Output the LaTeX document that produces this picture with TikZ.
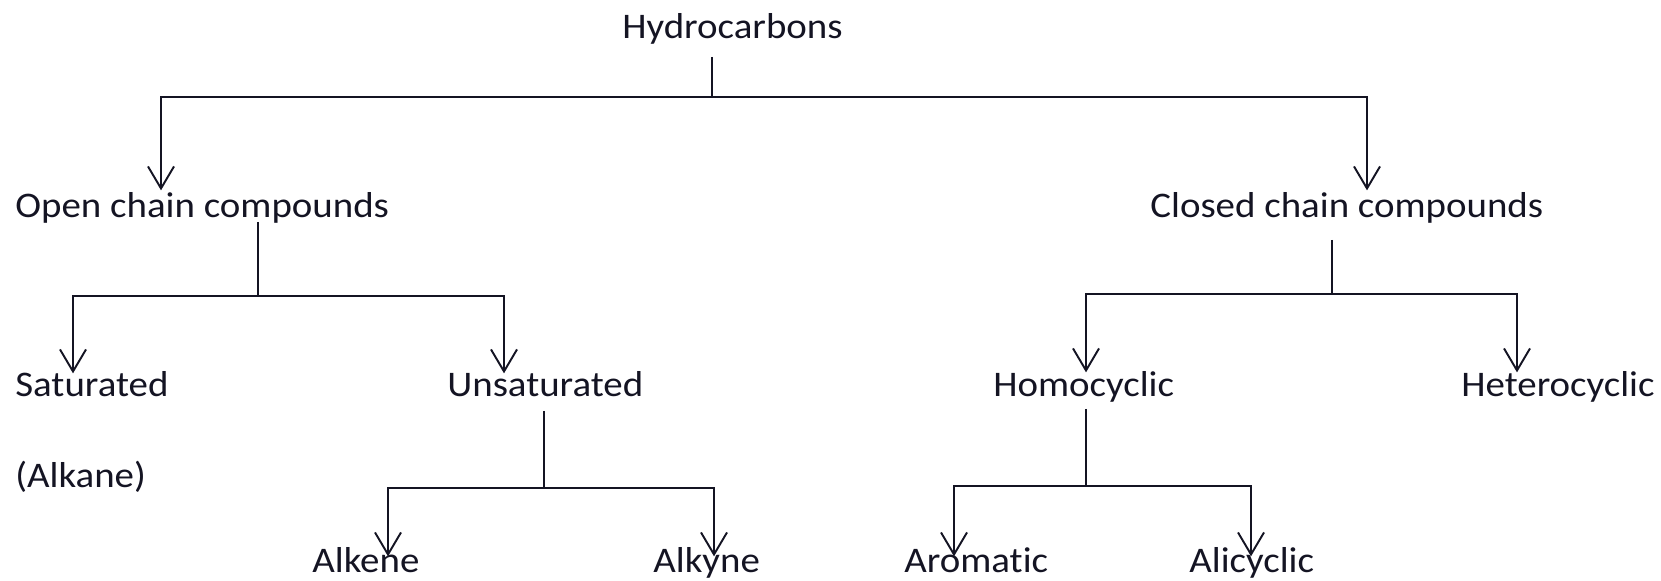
\documentclass[tikz,border=0pt]{standalone}
\usepackage{fontspec}
\setmainfont{Carlito}[FakeStretch=1.08, Ligatures=NoCommon]
\usepackage{tikz}
\usetikzlibrary{arrows.meta, calc}
\definecolor{inkdark}{RGB}{20,20,35}
\tikzset{
  term/.style={inner sep=0pt, anchor=base west, text=inkdark,
    text height=0.7em, text depth=0.2em,
    font=\fontsize{20.5pt}{24pt}\selectfont},
  line/.style={line width=1.1pt, color=inkdark},
  arrow/.style={line width=1.1pt, color=inkdark,
    -{Straight Barb[length=0.44cm, width=0.52cm, line width=1.1pt]}}
}
\begin{document}
\begin{tikzpicture}
  \useasboundingbox (0,0) rectangle (33.22,11.6);

  % Top level
  \node[term] (hc) at (12.44,10.82) {Hydrocarbons};
  \node[term] (open) at (0.30,7.24) {Open chain compounds};
  \node[term] (closed) at (23.00,7.24) {Closed chain compounds};
  \coordinate (hcJ) at (14.24,9.66);
  \coordinate (hcL) at (3.22,9.66);
  \coordinate (hcR) at (27.34,9.66);
  \draw[line, shorten <=0.28cm] (hc.south -| hcJ) -- (hcJ);
  \draw[arrow, shorten >=0.30cm] (hcJ) -| (hcL |- open.north);
  \draw[arrow, shorten >=0.30cm] (hcJ) -| (hcR |- closed.north);

  % Open chain
  \node[term] (sat) at (0.30,3.66) {Saturated};
  \node[term] (alkane) at (0.30,1.86) {(Alkane)};
  \node[term] (unsat) at (8.94,3.66) {Unsaturated};
  \coordinate (oJ) at (5.16,5.68);
  \coordinate (oL) at (1.46,5.68);
  \coordinate (oR) at (10.08,5.68);
  \draw[line] (open.south -| oJ) -- (oJ);
  \draw[arrow, shorten >=0.22cm] (oJ) -| (oL |- sat.north);
  \draw[arrow, shorten >=0.22cm] (oJ) -| (oR |- unsat.north);

  % Unsaturated
  \node[term] (alkene) at (6.24,0.16) {Alkene};
  \node[term] (alkyne) at (13.06,0.16) {Alkyne};
  \coordinate (uJ) at (10.88,1.84);
  \coordinate (uL) at (7.76,1.84);
  \coordinate (uR) at (14.28,1.84);
  \draw[line, shorten <=0.20cm] (unsat.south -| uJ) -- (uJ);
  \draw[arrow, shorten >=0.06cm] (uJ) -| (uL |- alkene.north);
  \draw[arrow, shorten >=0.06cm] (uJ) -| (uR |- alkyne.north);

  % Closed chain
  \node[term] (homo) at (19.86,3.66) {Homocyclic};
  \node[term] (hetero) at (29.22,3.66) {Heterocyclic};
  \coordinate (cJ) at (26.64,5.72);
  \coordinate (cL) at (21.72,5.72);
  \coordinate (cR) at (30.34,5.72);
  \draw[line, shorten <=0.36cm] (closed.south -| cJ) -- (cJ);
  \draw[arrow, shorten >=0.24cm] (cJ) -| (cL |- homo.north);
  \draw[arrow, shorten >=0.24cm] (cJ) -| (cR |- hetero.north);

  % Homocyclic
  \node[term] (arom) at (18.08,0.16) {Aromatic};
  \node[term] (alicy) at (23.78,0.16) {Alicyclic};
  \coordinate (mJ) at (21.72,1.88);
  \coordinate (mL) at (19.08,1.88);
  \coordinate (mR) at (25.02,1.88);
  \draw[line, shorten <=0.16cm] (homo.south -| mJ) -- (mJ);
  \draw[arrow, shorten >=0.06cm] (mJ) -| (mL |- arom.north);
  \draw[arrow, shorten >=0.06cm] (mJ) -| (mR |- alicy.north);
\end{tikzpicture}
\end{document}
